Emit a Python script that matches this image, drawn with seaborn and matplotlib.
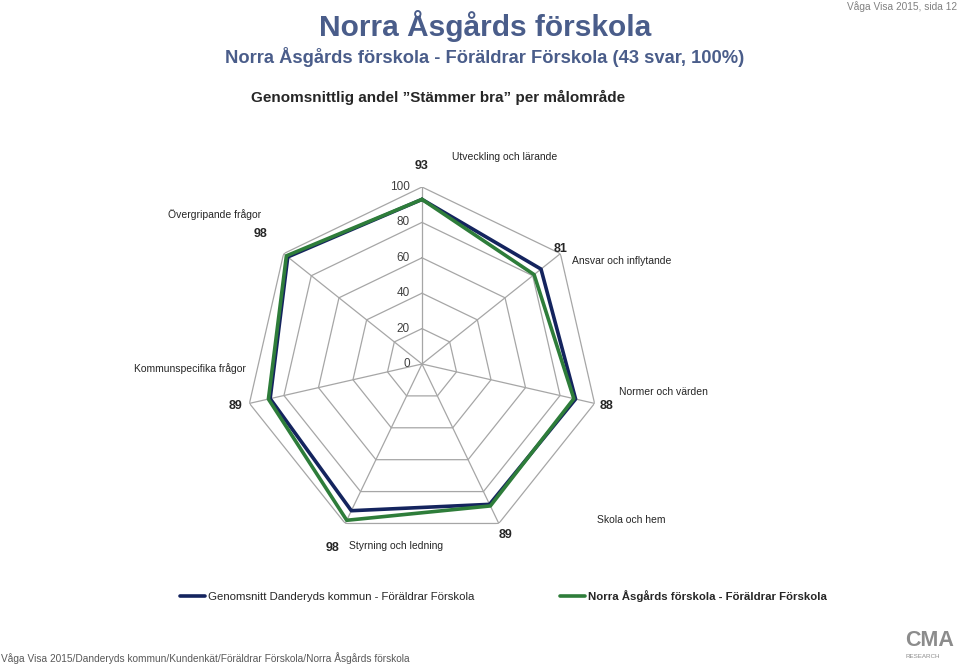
import numpy as np
import pandas as pd
import matplotlib
matplotlib.use("Agg")
import matplotlib.pyplot as plt
import seaborn as sns
from matplotlib.lines import Line2D

categories = ["Utveckling och lärande", "Ansvar och inflytande", "Normer och värden",
              "Skola och hem", "Styrning och ledning", "Kommunspecifika frågor",
              "Övergripande frågor"]
danderyd = [93, 86, 89, 88, 92, 88, 97]
asgard = [93, 81, 88, 89, 98, 89, 98]
value_labels = ["93", "81", "88", "89", "98", "89", "98"]
ring_values = [0, 20, 40, 60, 80, 100]
series_names = ["Genomsnitt Danderyds kommun - Föräldrar Förskola",
                "Norra Åsgårds förskola - Föräldrar Förskola"]

sns.set_theme(style="white")
plt.rcParams["font.family"] = ["Liberation Sans", "DejaVu Sans"]

W, H = 960, 666
fig = plt.figure(figsize=(W / 100, H / 100), dpi=100)
cx, cy, R = 422, 364, 177
ax = fig.add_axes([(cx - R) / W, (H - cy - R) / H, 2 * R / W, 2 * R / H], projection="polar")
ax.set_theta_zero_location("N")
ax.set_theta_direction(-1)

n = len(categories)
theta = np.linspace(0, 2 * np.pi, n, endpoint=False)
theta_c = np.append(theta, theta[0] + 2 * np.pi)

grid_col = "#a6a6a6"
for r in ring_values[1:]:
    ax.plot(theta_c, [r] * (n + 1), color=grid_col, lw=0.9, zorder=1)
for t in theta:
    ax.plot([t, t], [0, 100], color=grid_col, lw=0.9, zorder=1)

rows = []
for name, vals in zip(series_names, [danderyd, asgard]):
    vc = list(vals) + [vals[0]]
    for i, (t, v) in enumerate(zip(theta_c, vc)):
        rows.append({"series": name, "theta": t, "value": v, "order": i})
df = pd.DataFrame(rows)
colors = {series_names[0]: "#14245e", series_names[1]: "#2e7d3a"}
sns.lineplot(data=df, x="theta", y="value", hue="series", palette=colors,
             sort=False, estimator=None, units="series", linewidth=2.6,
             legend=False, ax=ax, zorder=3)

ax.set_ylim(0, 100)
ax.grid(False)
ax.spines["polar"].set_visible(False)
ax.set_xticks([])
ax.set_yticks([])
ax.set_xlabel("")
ax.set_ylabel("")
ax.patch.set_alpha(0)

# radial tick labels
for r in ring_values:
    ax.annotate(str(r), xy=(0, r), xytext=(-12, 0), textcoords="offset pixels",
                ha="right", va="center", fontsize=8.5, color="#404040")

# value labels
val_off = [(0, 21), (0, 5), (12, -3), (7, -12), (-13, -25), (-14, -3), (-23, 20)]
for t, lab, off in zip(theta, value_labels, val_off):
    ax.annotate(lab, xy=(t, 100), xytext=off, textcoords="offset pixels",
                ha="center", va="center", fontsize=9, fontweight="bold", color="#262626")

# category labels
cat_off = [(30, 30), (12, -7), (24, 11), (98, 3), (4, -23), (-4, 35), (-22, 39)]
cat_ha = ["left", "left", "left", "left", "left", "right", "right"]
for t, lab, off, ha in zip(theta, categories, cat_off, cat_ha):
    ax.annotate(lab, xy=(t, 100), xytext=off, textcoords="offset pixels",
                ha=ha, va="center", fontsize=7.5, color="#262626")

# titles
title_col = "#4a5d8a"
fig.text(485 / W, 1 - 26 / H, "Norra Åsgårds förskola", ha="center", va="center",
         fontsize=21.5, fontweight="bold", color=title_col)
fig.text(485 / W, 1 - 57 / H, "Norra Åsgårds förskola - Föräldrar Förskola (43 svar, 100%)",
         ha="center", va="center", fontsize=13.2, fontweight="bold", color=title_col)
fig.text(438 / W, 1 - 97 / H, "Genomsnittlig andel \u201dStämmer bra\u201d per målområde",
         ha="center", va="center", fontsize=11, fontweight="bold", color="#262626")
fig.text(957 / W, 1 - 7 / H, "Våga Visa 2015, sida 12", ha="right", va="center",
         fontsize=7.3, color="#808080")
fig.text(1 / W, 1 - 658 / H,
         "Våga Visa 2015/Danderyds kommun/Kundenkät/Föräldrar Förskola/Norra Åsgårds förskola",
         ha="left", va="center", fontsize=7.3, color="#595959")
fig.text(905 / W, 1 - 640 / H, "CMA", ha="left", va="center", fontsize=15.5,
         fontweight="bold", color="#8c8c8c")
fig.text(906 / W, 1 - 656 / H, "RESEARCH", ha="left", va="center", fontsize=4.5,
         color="#8c8c8c")

# legend
handles = [Line2D([], [], color=colors[s], lw=2.6) for s in series_names]
leg = fig.legend(handles, series_names, loc="center left",
                 bbox_to_anchor=(180 / W, 1 - 596 / H), ncol=2, frameon=False,
                 fontsize=8.2, handlelength=2.2, handletextpad=0.25,
                 columnspacing=7.55, borderpad=0, borderaxespad=0)
leg.get_texts()[1].set_fontweight("bold")

fig.savefig("out.png", dpi=100)
